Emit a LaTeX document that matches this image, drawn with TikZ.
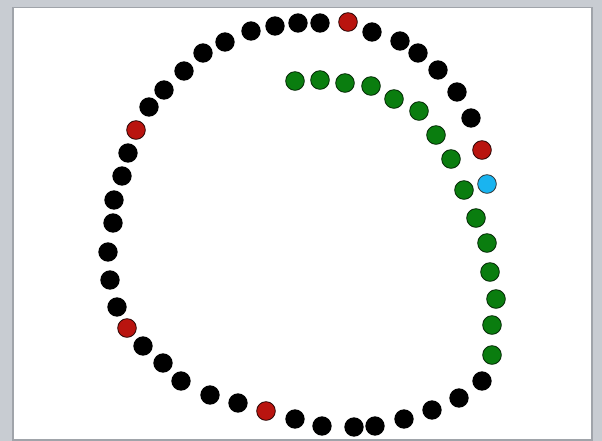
\documentclass[tikz,border=0pt]{standalone}
\usepackage{tikz}
\usetikzlibrary{positioning}

\definecolor{pagegrey}{RGB}{200,204,210}
\definecolor{shadegrey}{RGB}{160,164,170}
\definecolor{ringred}{RGB}{185,20,15}
\definecolor{ringgreen}{RGB}{10,125,15}
\definecolor{ringblue}{RGB}{25,180,240}

\begin{document}
\begin{tikzpicture}[x=0.03cm, y=-0.03cm, line join=round,
  dotblack/.style={circle, inner sep=0pt, minimum size=0.58cm, fill=black},
  dotred/.style={circle, inner sep=0pt, minimum size=0.56cm, fill=ringred, draw=black!80!ringred, line width=0.7pt},
  dotgreen/.style={circle, inner sep=0pt, minimum size=0.56cm, fill=ringgreen, draw=black!70!ringgreen, line width=0.7pt},
  dotblue/.style={circle, inner sep=0pt, minimum size=0.56cm, fill=ringblue, draw=black!80, line width=0.7pt}]
% slide page
\fill[pagegrey] (0,0) rectangle (602,441);
\fill[shadegrey] (12,7) rectangle (593,441);
\fill[white] (14,8) rectangle (591,439);
% outer ring, black beads
\foreach \x/\y [count=\i] in {298/23, 320/23, 372/32, 400/41, 418/53, 438/70, 457/92, 471/118,
    482/381, 459/398, 432/410, 404/419, 375/426, 354/427, 322/426, 295/419,
    238/403, 210/395, 181/381, 163/363, 143/346,
    117/307, 110/280, 108/252, 113/223, 114/200, 122/176, 128/153,
    149/107, 164/90, 184/71, 203/53, 225/42, 251/31, 275/26}
  \node[dotblack] (b\i) at (\x,\y) {};
% red beads
\foreach \x/\y [count=\i] in {348/22, 482/150, 266/411, 127/328, 136/130}
  \node[dotred] (r\i) at (\x,\y) {};
% inner track, green beads
\foreach \x/\y [count=\i] in {295/81, 320/80, 345/83, 371/86, 394/99, 419/111, 436/135, 451/159,
    464/190, 476/218, 487/243, 490/272, 496/299, 492/325, 492/355}
  \node[dotgreen] (g\i) at (\x,\y) {};
% blue bead
\node[dotblue] (c1) at (487,184) {};
\end{tikzpicture}
\end{document}
